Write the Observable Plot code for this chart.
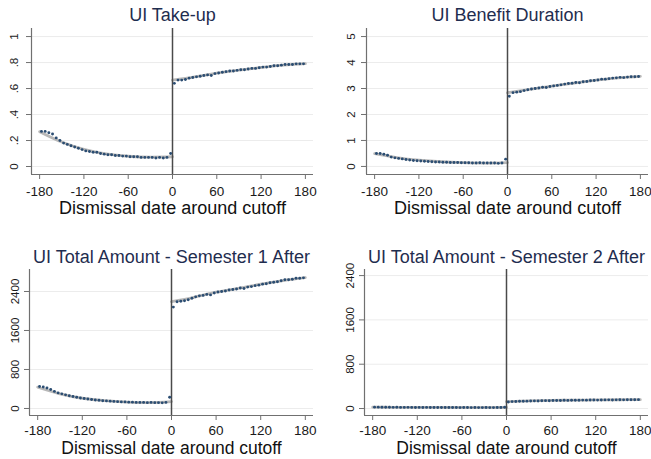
<!DOCTYPE html>
<html>
<head>
<meta charset="utf-8">
<script src="https://cdn.jsdelivr.net/npm/d3@7"></script>
<script src="https://cdn.jsdelivr.net/npm/@observablehq/plot@0.6"></script>
<style>
  html, body { margin: 0; padding: 0; background: #fff; }
  #chart { position: relative; width: 651px; height: 459px; overflow: hidden; background: #fff; }
  #chart > svg { position: absolute; }
</style>
</head>
<body>
<div id="chart"></div>
<script>
// 5-day bins on each side of the cutoff (days)
const binsLeft = [-177.5, -172.5, -167.5, -162.5, -157.5, -152.5, -147.5, -142.5, -137.5, -132.5, -127.5, -122.5,
  -117.5, -112.5, -107.5, -102.5, -97.5, -92.5, -87.5, -82.5, -77.5, -72.5, -67.5, -62.5,
  -57.5, -52.5, -47.5, -42.5, -37.5, -32.5, -27.5, -22.5, -17.5, -12.5, -7.5, -2.5];
const binsRight = [2.5, 7.5, 12.5, 17.5, 22.5, 27.5, 32.5, 37.5, 42.5, 47.5, 52.5, 57.5,
  62.5, 67.5, 72.5, 77.5, 82.5, 87.5, 92.5, 97.5, 102.5, 107.5, 112.5, 117.5,
  122.5, 127.5, 132.5, 137.5, 142.5, 147.5, 152.5, 157.5, 162.5, 167.5, 172.5, 177.5];

// Knots of the fitted polynomial on each side
const fitLeftX = [-180, -150, -120, -90, -60, -30, 0];
const fitRightX = [0, 30, 60, 90, 120, 150, 180];

// UI take-up (share)
const takeupLeft = [.27, .27, .26, .25, .22, .20, .18, .17, .16, .15, .14, .13,
  .12, .115, .11, .11, .10, .095, .09, .09, .085, .085, .08, .08,
  .075, .075, .075, .07, .07, .07, .07, .065, .07, .065, .07, .10];
const takeupRight = [.64, .665, .665, .67, .68, .685, .69, .695, .70, .705, .70, .715,
  .72, .725, .73, .735, .735, .74, .745, .745, .75, .755, .755, .76,
  .765, .765, .77, .775, .775, .78, .785, .785, .785, .79, .79, .79];
const takeupFitLeft = [.268, .188, .132, .097, .079, .072, .075];
const takeupFitRight = [.665, .69, .718, .742, .762, .78, .792];

// UI benefit duration (months)
const durationLeft = [.50, .50, .47, .43, .36, .33, .31, .29, .27, .25, .23, .22,
  .21, .20, .19, .18, .17, .17, .16, .16, .15, .15, .15, .14,
  .14, .14, .13, .13, .14, .13, .13, .13, .13, .12, .13, .28];
const durationRight = [2.70, 2.84, 2.86, 2.88, 2.92, 2.95, 2.98, 3.00, 3.02, 3.05, 3.04, 3.08,
  3.10, 3.12, 3.14, 3.17, 3.19, 3.20, 3.23, 3.22, 3.26, 3.27, 3.30, 3.31,
  3.33, 3.36, 3.36, 3.38, 3.40, 3.41, 3.43, 3.42, 3.44, 3.45, 3.45, 3.46];
const durationFitLeft = [.49, .34, .24, .18, .145, .13, .15];
const durationFitRight = [2.84, 2.97, 3.09, 3.21, 3.32, 3.41, 3.47];

// UI total amount, first semester after dismissal
const sem1Left = [450, 440, 420, 390, 350, 320, 300, 280, 260, 245, 230, 215,
  205, 195, 185, 175, 170, 160, 155, 150, 145, 140, 135, 135,
  130, 130, 125, 125, 125, 120, 125, 120, 120, 115, 125, 230];
const sem1Right = [2080, 2190, 2200, 2210, 2230, 2260, 2290, 2310, 2320, 2340, 2330, 2370,
  2390, 2400, 2410, 2430, 2440, 2450, 2470, 2460, 2490, 2500, 2520, 2530,
  2550, 2560, 2580, 2590, 2600, 2620, 2640, 2640, 2650, 2670, 2670, 2680];
const sem1FitLeft = [435, 300, 210, 160, 130, 120, 140];
const sem1FitRight = [2190, 2280, 2385, 2465, 2550, 2625, 2685];

// UI total amount, second semester after dismissal
const sem2Left = [25, 25, 24, 22, 22, 21, 22, 20, 20, 21, 20, 19,
  20, 19, 20, 18, 19, 19, 18, 18, 19, 18, 18, 17,
  18, 18, 17, 18, 17, 17, 18, 17, 17, 18, 18, 22];
const sem2Right = [118, 125, 128, 130, 132, 133, 135, 138, 136, 140, 142, 141,
  144, 145, 146, 148, 147, 149, 150, 150, 152, 151, 153, 154,
  152, 155, 156, 157, 155, 157, 158, 157, 158, 159, 158, 160];
const sem2FitLeft = [24, 22, 20, 19, 18, 18, 18];
const sem2FitRight = [125, 138, 146, 151, 155, 158, 160];

// Axis ticks and labels
const xTicks = [-180, -120, -60, 0, 60, 120, 180];
const xTickLabels = ["-180", "-120", "-60", "0", "60", "120", "180"];
const shareTicks = [0, .2, .4, .6, .8, 1];
const shareTickLabels = ["0", ".2", ".4", ".6", ".8", "1"];
const monthTicks = [0, 1, 2, 3, 4, 5];
const monthTickLabels = ["0", "1", "2", "3", "4", "5"];
const amountTicks = [0, 800, 1600, 2400];
const amountTickLabels = ["0", "800", "1600", "2400"];

const titles = ["UI Take-up", "UI Benefit Duration",
  "UI Total Amount - Semester 1 After", "UI Total Amount - Semester 2 After"];
const xTitle = "Dismissal date around cutoff";

const FONT = "'Liberation Sans', Arial, Helvetica, sans-serif";
const DOT = "#2b4d72";
const FIT = "#b8b8b8";
const AXIS = "#707070";
const GRID = "#ececec";
const TITLE = "#1f2d4f";
const xDomain = [-191, 191];

function zip(xs, ys) { return xs.map((x, i) => ({x, y: ys[i]})); }

function panel(o) {
  const pts = zip(binsLeft, o.left).concat(zip(binsRight, o.right));
  const fitL = zip(fitLeftX, o.fitLeft);
  const fitR = zip(fitRightX, o.fitRight);
  const svg = Plot.plot({
    width: o.width, height: o.height,
    marginLeft: o.ml, marginRight: o.mr, marginTop: o.mt, marginBottom: o.mb,
    style: {fontFamily: FONT, fontSize: "13.5px", background: "transparent", color: "#1a1a1a"},
    x: {domain: xDomain, label: null},
    y: {domain: o.yDomain, label: null},
    marks: [
      Plot.gridY(o.yTicks, {stroke: GRID, strokeOpacity: 1, strokeWidth: 1}),
      Plot.ruleY([o.yDomain[0]], {stroke: AXIS, strokeWidth: 1.2}),
      Plot.ruleX([xDomain[0]], {stroke: AXIS, strokeWidth: 1.2}),
      Plot.axisX(xTicks, {tickSize: 5, tickPadding: o.tickPad, stroke: AXIS, fill: "#1a1a1a",
        fontSize: 13.5, label: null, tickFormat: (d) => xTickLabels[xTicks.indexOf(d)]}),
      Plot.axisY(o.yTicks, {tickSize: 5, stroke: AXIS, label: null, tickFormat: () => ""}),
      Plot.text(o.yTicks, {y: (d) => d, text: (d, i) => o.yLabels[i], rotate: -90,
        frameAnchor: "left", dx: o.ylabDx, fontSize: 11.5, fill: "#1a1a1a",
        textAnchor: "middle", lineAnchor: "middle"}),
      Plot.line(fitL, {x: "x", y: "y", curve: "natural", stroke: FIT, strokeWidth: 2.8}),
      Plot.line(fitR, {x: "x", y: "y", curve: "natural", stroke: FIT, strokeWidth: 2.8}),
      Plot.ruleX([0], {stroke: "#4a4a4a", strokeWidth: 1.5}),
      Plot.dot(pts, {x: "x", y: "y", r: 1.45, fill: DOT, stroke: "none"}),
      Plot.text([o.title], {frameAnchor: "top", dy: o.titleDy, fontSize: 18, fill: TITLE,
        lineAnchor: "middle"}),
      Plot.text([xTitle], {frameAnchor: "bottom", dy: o.xTitleDy, fontSize: o.xTitleSize, fill: "#111",
        lineAnchor: "middle"})
    ]
  });
  svg.style.left = o.left0 + "px";
  svg.style.top = o.top0 + "px";
  return svg;
}

const chart = document.getElementById("chart");
chart.append(panel({
  title: titles[0], left: takeupLeft, right: takeupRight,
  fitLeft: takeupFitLeft, fitRight: takeupFitRight,
  yDomain: [-0.0615, 1.062], yTicks: shareTicks, yLabels: shareTickLabels,
  left0: 0, top0: 0, width: 325, height: 230, ml: 31, mr: 12, mt: 28, mb: 56,
  ylabDx: -17, tickPad: 7, titleDy: -13.4, xTitleDy: 33.5, xTitleSize: 18
}));
chart.append(panel({
  title: titles[1], left: durationLeft, right: durationRight,
  fitLeft: durationFitLeft, fitRight: durationFitRight,
  yDomain: [-0.31, 5.31], yTicks: monthTicks, yLabels: monthTickLabels,
  left0: 325, top0: 0, width: 326, height: 230, ml: 41, mr: 3, mt: 28, mb: 56,
  ylabDx: -15, tickPad: 7, titleDy: -13.4, xTitleDy: 33.5, xTitleSize: 18
}));
chart.append(panel({
  title: titles[2], left: sem1Left, right: sem1Right,
  fitLeft: sem1FitLeft, fitRight: sem1FitRight,
  yDomain: [-144, 2851], yTicks: amountTicks, yLabels: amountTickLabels,
  left0: 0, top0: 230, width: 325, height: 229, ml: 29, mr: 12, mt: 39, mb: 44,
  ylabDx: -14, tickPad: 5, titleDy: -12.4, xTitleDy: 33, xTitleSize: 17.5
}));
chart.append(panel({
  title: titles[3], left: sem2Left, right: sem2Right,
  fitLeft: sem2FitLeft, fitRight: sem2FitRight,
  yDomain: [-126, 2510], yTicks: amountTicks, yLabels: amountTickLabels,
  left0: 325, top0: 230, width: 326, height: 229, ml: 39, mr: 3, mt: 39, mb: 44,
  ylabDx: -14, tickPad: 5, titleDy: -12.4, xTitleDy: 33, xTitleSize: 17.5
}));
</script>
</body>
</html>
